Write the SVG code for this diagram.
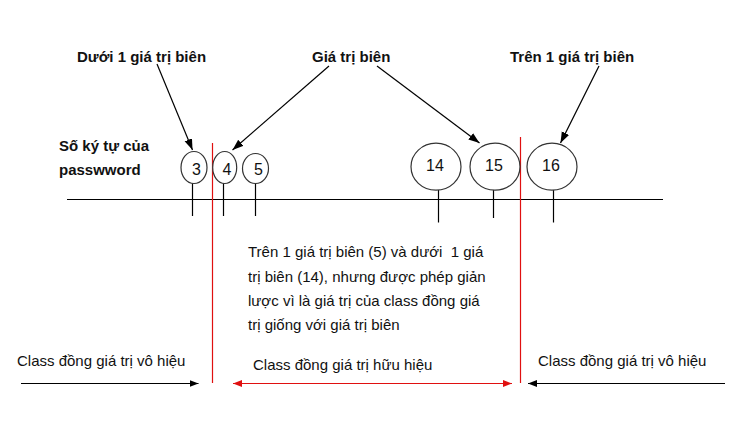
<svg xmlns="http://www.w3.org/2000/svg" width="739" height="429" viewBox="0 0 739 429">
<style>
.lb{font-family:"Liberation Sans",Arial,sans-serif;font-size:15px;font-weight:bold;fill:#111}
.tx{font-family:"Liberation Sans",Arial,sans-serif;font-size:15px;fill:#111}
.num{font-family:"Liberation Sans",Arial,sans-serif;font-size:16px;fill:#111;text-anchor:middle}
.ell{fill:#fff;stroke:#333;stroke-width:1.2}
.ln{stroke:#000;stroke-width:1.2;fill:none}
.red{stroke:#e01010;stroke-width:1.2;fill:none}
</style>
<defs>
<marker id="ah" markerUnits="userSpaceOnUse" markerWidth="12" markerHeight="10" refX="11" refY="4" orient="auto">
<path d="M0,0 L11,4 L0,8 Z" fill="#000"/>
</marker>
<marker id="ahs" markerUnits="userSpaceOnUse" markerWidth="10" markerHeight="8" refX="9" refY="3.5" orient="auto">
<path d="M0,0 L9,3.5 L0,7 Z" fill="#000"/>
</marker>
<marker id="ahr" markerUnits="userSpaceOnUse" markerWidth="10" markerHeight="8" refX="9" refY="3.5" orient="auto-start-reverse">
<path d="M0,0 L9,3.5 L0,7 Z" fill="#e01010"/>
</marker>
</defs>
<rect width="739" height="429" fill="#fff"/>

<g id="label-duoi"><text class="lb" x="77" y="62">Dưới 1 giá trị biên</text></g>
<g id="label-gia-tri-bien"><text class="lb" x="312" y="62">Giá trị biên</text></g>
<g id="label-tren"><text class="lb" x="510" y="62">Trên 1 giá trị biên</text></g>
<g id="label-so-ky-tu"><text class="lb" x="59" y="151">Số ký tự của</text><text class="lb" x="59" y="175">passwword</text></g>

<g id="connectors">
<line class="ln" x1="67" y1="199.5" x2="663" y2="199.5"/>
<line class="ln" x1="192.5" y1="183" x2="192.5" y2="216"/>
<line class="ln" x1="223.5" y1="183" x2="223.5" y2="216"/>
<line class="ln" x1="255.5" y1="183" x2="255.5" y2="216"/>
<line class="ln" x1="438.5" y1="190" x2="438.5" y2="222.5"/>
<line class="ln" x1="493.5" y1="186" x2="493.5" y2="218"/>
<line class="ln" x1="553.5" y1="190" x2="553.5" y2="222.5"/>
<line class="red" x1="212.5" y1="143" x2="212.5" y2="383"/>
<line class="red" x1="520.5" y1="137" x2="520.5" y2="383"/>
<line class="ln" x1="157" y1="64" x2="192.5" y2="150" marker-end="url(#ah)"/>
<line class="ln" x1="329" y1="66" x2="232.5" y2="150" marker-end="url(#ah)"/>
<line class="ln" x1="377" y1="66" x2="479.5" y2="143" marker-end="url(#ah)"/>
<line class="ln" x1="599" y1="66" x2="560.5" y2="143" marker-end="url(#ah)"/>
<line class="ln" x1="21" y1="383.5" x2="198.5" y2="383.5" marker-end="url(#ahs)"/>
<line class="ln" x1="725" y1="383.5" x2="528" y2="383.5" marker-end="url(#ahs)"/>
<line class="red" x1="233" y1="383.5" x2="512" y2="383.5" marker-start="url(#ahr)" marker-end="url(#ahr)"/>
</g>

<g id="node-3"><ellipse class="ell" cx="194" cy="167.5" rx="13" ry="16"/><text class="num" x="196.5" y="175">3</text></g>
<g id="node-4"><ellipse class="ell" cx="224.7" cy="167.5" rx="12" ry="16"/><text class="num" x="227" y="175">4</text></g>
<g id="node-5"><ellipse class="ell" cx="255.5" cy="168.5" rx="13" ry="15"/><text class="num" x="258.5" y="175">5</text></g>
<g id="node-14"><ellipse class="ell" cx="436" cy="166.7" rx="25" ry="23.5"/><text class="num" x="435" y="171">14</text></g>
<g id="node-15"><ellipse class="ell" cx="495" cy="166.7" rx="25" ry="23.5"/><text class="num" x="494" y="171">15</text></g>
<g id="node-16"><ellipse class="ell" cx="552" cy="166.7" rx="25" ry="23.5"/><text class="num" x="551" y="171">16</text></g>

<g id="note">
<text class="tx" x="248" y="257" xml:space="preserve">Trên 1 giá trị biên (5) và dưới  1 giá</text>
<text class="tx" x="248" y="281.5">trị biên (14), nhưng được phép giản</text>
<text class="tx" x="248" y="306">lược vì là giá trị của class đồng giá</text>
<text class="tx" x="248" y="330">trị giống với giá trị biên</text>
</g>
<g id="label-vo-hieu-left"><text class="tx" x="17" y="366">Class đồng giá trị vô hiệu</text></g>
<g id="label-huu-hieu"><text class="tx" x="253" y="370">Class đồng giá trị hữu hiệu</text></g>
<g id="label-vo-hieu-right"><text class="tx" x="538" y="366">Class đồng giá trị vô hiệu</text></g>
</svg>
